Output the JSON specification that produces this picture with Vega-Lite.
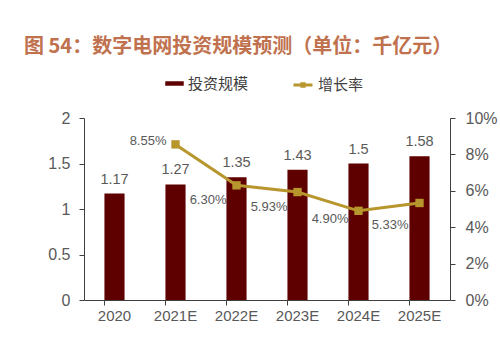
{
  "$schema": "https://vega.github.io/schema/vega-lite/v6.json",
  "width": 366,
  "height": 182,
  "autosize": {"type": "none"},
  "padding": {"left": 84, "top": 118, "right": 50, "bottom": 62},
  "background": "white",
  "title": {
    "text": "图 54：数字电网投资规模预测（单位：千亿元）",
    "anchor": "start",
    "frame": "group",
    "dx": -60,
    "offset": 17,
    "font": "Noto Sans CJK SC",
    "fontSize": 20,
    "fontWeight": "bold",
    "color": "#C0714E"
  },
  "config": {
    "view": {"stroke": null},
    "font": "Liberation Sans",
    "axis": {
      "grid": false,
      "domainColor": "#404040",
      "tickColor": "#404040",
      "labelColor": "#595959",
      "labelFont": "Liberation Sans",
      "labelOverlap": false,
      "tickSize": 5,
      "title": null
    },
    "legend": {
      "orient": "none",
      "direction": "horizontal",
      "labelFont": "Noto Sans CJK SC",
      "labelFontSize": 15,
      "labelColor": "#404040",
      "title": null
    }
  },
  "data": {
    "values": [
      {"year": "2020", "scale": 1.17, "growth": null},
      {"year": "2021E", "scale": 1.27, "growth": 0.0855},
      {"year": "2022E", "scale": 1.35, "growth": 0.063},
      {"year": "2023E", "scale": 1.43, "growth": 0.0593},
      {"year": "2024E", "scale": 1.5, "growth": 0.049},
      {"year": "2025E", "scale": 1.58, "growth": 0.0533}
    ]
  },
  "encoding": {
    "x": {
      "field": "year",
      "type": "nominal",
      "sort": null,
      "scale": {"paddingInner": 0.67, "paddingOuter": 0.335},
      "axis": {"labelAngle": 0, "labelFontSize": 15, "bandPosition": 0, "labelPadding": 3}
    }
  },
  "layer": [
    {
      "encoding": {
        "y": {
          "field": "scale",
          "type": "quantitative",
          "scale": {"domain": [0, 2]},
          "axis": {"values": [0, 0.5, 1, 1.5, 2], "format": "~g", "labelFontSize": 16, "labelPadding": 9, "labelOverlap": false}
        }
      },
      "layer": [
        {
          "mark": {"type": "bar"},
          "encoding": {
            "fill": {
              "datum": "投资规模",
              "type": "nominal",
              "scale": {"range": ["#5E0000"]},
              "legend": {"symbolType": "M-1,-0.243H1V0.243H-1Z", "symbolSize": 342, "symbolStrokeWidth": 0, "legendX": 81, "legendY": -44}
            }
          }
        },
        {
          "mark": {"type": "text", "baseline": "bottom", "dy": -7, "fontSize": 14.5, "color": "#595959"},
          "encoding": {
            "text": {"field": "scale", "type": "quantitative", "format": "~g"}
          }
        }
      ]
    },
    {
      "encoding": {
        "y": {
          "field": "growth",
          "type": "quantitative",
          "scale": {"domain": [0, 0.1]},
          "axis": {"orient": "right", "values": [0, 0.02, 0.04, 0.06, 0.08, 0.1], "format": ".0%", "labelFontSize": 16, "labelPadding": 10, "labelOverlap": false}
        }
      },
      "layer": [
        {
          "mark": {"type": "line", "strokeWidth": 3},
          "encoding": {
            "stroke": {
              "datum": "增长率",
              "type": "nominal",
              "scale": {"range": ["#B8962E"]},
              "legend": {"symbolType": "M-1,0H1M-0.12,-0.12H0.12V0.12H-0.12Z", "symbolSize": 361, "symbolStrokeWidth": 3, "legendX": 208, "legendY": -44}
            }
          }
        },
        {
          "mark": {"type": "point", "shape": "square", "filled": true, "size": 70, "color": "#B8962E", "opacity": 1}
        },
        {
          "transform": [{"filter": "datum.year === '2021E'"}],
          "mark": {"type": "text", "align": "right", "baseline": "middle", "dx": -9, "dy": -3, "fontSize": 13, "color": "#595959"},
          "encoding": {
            "text": {"field": "growth", "type": "quantitative", "format": ".2%"}
          }
        },
        {
          "transform": [{"filter": "datum.year === '2022E' || datum.year === '2023E'"}],
          "mark": {"type": "text", "align": "right", "baseline": "middle", "dx": -10, "dy": 15, "fontSize": 13, "color": "#595959"},
          "encoding": {
            "text": {"field": "growth", "type": "quantitative", "format": ".2%"}
          }
        },
        {
          "transform": [{"filter": "datum.year === '2024E'"}],
          "mark": {"type": "text", "align": "right", "baseline": "middle", "dx": -10, "dy": 8, "fontSize": 13, "color": "#595959"},
          "encoding": {
            "text": {"field": "growth", "type": "quantitative", "format": ".2%"}
          }
        },
        {
          "transform": [{"filter": "datum.year === '2025E'"}],
          "mark": {"type": "text", "align": "right", "baseline": "middle", "dx": -11, "dy": 22, "fontSize": 13, "color": "#595959"},
          "encoding": {
            "text": {"field": "growth", "type": "quantitative", "format": ".2%"}
          }
        }
      ]
    }
  ],
  "resolve": {"scale": {"y": "independent"}}
}
